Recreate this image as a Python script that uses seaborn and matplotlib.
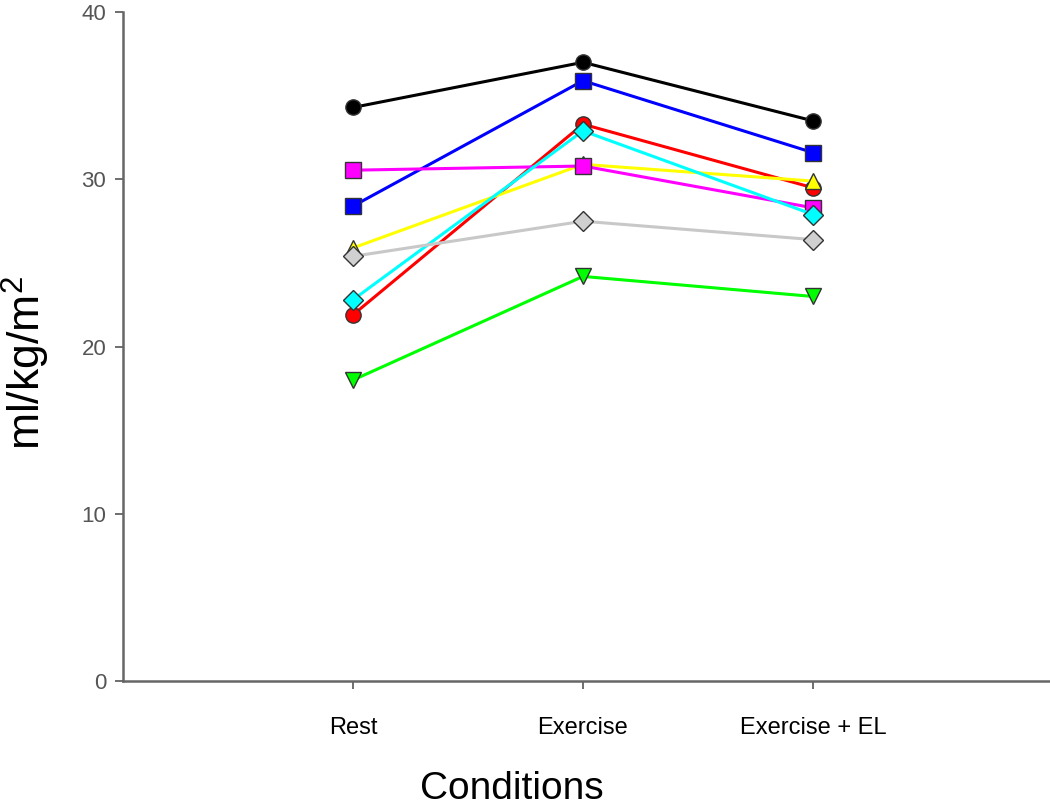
import pandas as pd
import numpy as np
import matplotlib.pyplot as plt
import seaborn as sns

conditions = ['Rest', 'Exercise', 'Exercise + EL']

black = [34.3, 37.0, 33.5]
blue = [28.4, 35.9, 31.6]
red = [21.9, 33.3, 29.5]
yellow = [25.9, 30.9, 29.9]
magenta = [30.55, 30.8, 28.3]
cyan = [22.8, 32.9, 27.9]
gray = [25.4, 27.5, 26.4]
green = [18.0, 24.2, 23.0]

series = [
    ('black', black, '#000000', 'o'),
    ('blue', blue, '#0000ff', 's'),
    ('red', red, '#ff0000', 'o'),
    ('yellow', yellow, '#ffff00', '^'),
    ('magenta', magenta, '#ff00ff', 's'),
    ('cyan', cyan, '#00ffff', 'D'),
    ('gray', gray, '#c8c8c8', 'D'),
    ('green', green, '#00ff00', 'v'),
]

plt.rcParams['font.family'] = ['Liberation Sans', 'DejaVu Sans']

fig = plt.figure(figsize=(10.5, 8.09), dpi=100)
ax = fig.add_axes([0.117, 0.158, 0.883, 0.827])

pos = np.arange(len(conditions))
for name, vals, col, mk in series:
    df = pd.DataFrame({'pos': pos, 'value': vals})
    sns.lineplot(data=df, x='pos', y='value', ax=ax, color=col, marker=mk,
                 markersize=11 if mk != 'D' else 10, linewidth=2.2,
                 markeredgecolor='#333333', markeredgewidth=1.0,
                 markerfacecolor=col if name != 'gray' else '#d0d0d0')

ax.set_xlim(-1, 3.03)
ax.set_ylim(0, 40)
ax.set_xticks(pos)
ax.set_xticklabels(conditions, fontsize=17, color='black')
ax.set_yticks([0, 10, 20, 30, 40])
ax.tick_params(axis='y', labelsize=16, labelcolor='#555555', length=6,
               width=1.2, color='#555555', pad=6)
ax.tick_params(axis='x', length=6, width=1.2, color='#555555', pad=20)
ax.spines['top'].set_visible(False)
ax.spines['right'].set_visible(False)
for s in ['left', 'bottom']:
    ax.spines[s].set_color('#666666')
    ax.spines[s].set_linewidth(1.8)

ax.set_ylabel('ml/kg/m$^{\\mathregular{2}}$', fontsize=32)
ax.yaxis.set_label_coords(-0.076, 0.475)
ax.set_xlabel('Conditions', fontsize=28)
ax.xaxis.set_label_coords(0.42, -0.135)

fig.savefig('out.png', dpi=100)
